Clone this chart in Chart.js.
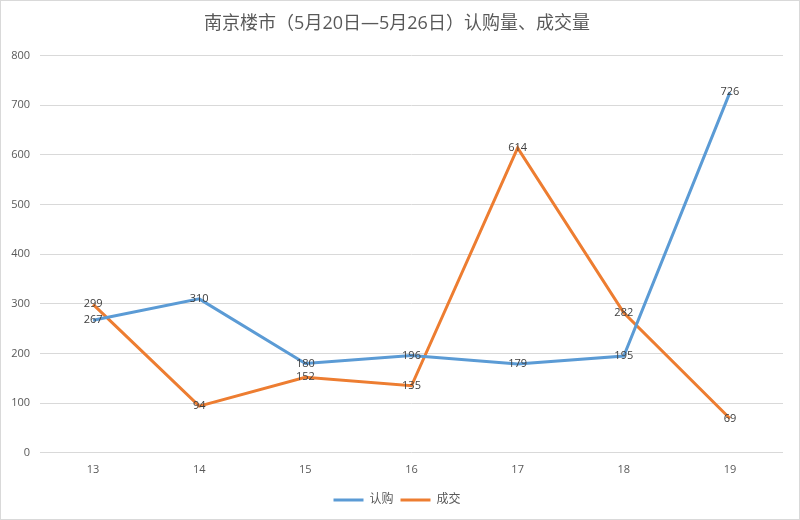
<!DOCTYPE html>
<html>
<head>
<meta charset="utf-8">
<script src="https://cdn.jsdelivr.net/npm/chart.js@4"></script>
<style>
    body { margin: 0; background: #fff; }
    #box { width: 798px; height: 518px; border: 1px solid #d9d9d9; }
</style>
</head>
<body>
<div id="box"><canvas id="graph1" width="798" height="518"></canvas></div>
<script>
const days      = ["13", "14", "15", "16", "17", "18", "19"];
const rengou    = [267, 310, 180, 196, 179, 195, 726];   // 认购
const chengjiao = [299, 94, 152, 135, 614, 282, 69];     // 成交

const FONT = "'Open Sans', 'Noto Sans CJK SC', sans-serif";

// 数値ラベルを点の真上(中央)に描く
const valueLabels = {
    id: "valueLabels",
    afterDatasetsDraw(chart) {
        const ctx = chart.ctx;
        ctx.save();
        ctx.font = "11px " + FONT;
        ctx.fillStyle = "#404040";
        ctx.textAlign = "center";
        ctx.textBaseline = "middle";
        chart.data.datasets.forEach((ds, i) => {
            const meta = chart.getDatasetMeta(i);
            meta.data.forEach((pt, j) => {
                ctx.fillText(String(ds.data[j]), pt.x, pt.y);
            });
        });
        ctx.restore();
    }
};

window.addEventListener("load", function () {
    const ctx = document.getElementById("graph1").getContext("2d");
    new Chart(ctx, {
        type: "line",
        data: {
            labels: days,
            datasets: [
                {
                    label: "认购",
                    data: rengou,
                    borderColor: "#5B9BD5",
                    backgroundColor: "#5B9BD5",
                    borderWidth: 3,
                    pointRadius: 0,
                    tension: 0
                },
                {
                    label: "成交",
                    data: chengjiao,
                    borderColor: "#ED7D31",
                    backgroundColor: "#ED7D31",
                    borderWidth: 3,
                    pointRadius: 0,
                    tension: 0
                }
            ]
        },
        options: {
            responsive: false,
            animation: false,
            layout: { padding: { left: 10, right: 16, top: 0, bottom: 3 } },
            plugins: {
                title: {
                    display: true,
                    text: "南京楼市（5月20日—5月26日）认购量、成交量",
                    color: "#595959",
                    font: { family: FONT, size: 18, weight: "normal" },
                    padding: { top: 12, bottom: 21 }
                },
                legend: {
                    position: "bottom",
                    labels: {
                        usePointStyle: true,
                        pointStyle: "line",
                        pointStyleWidth: 30,
                        boxHeight: 12,
                        padding: 7,
                        color: "#595959",
                        font: { family: FONT, size: 12 }
                    }
                },
                tooltip: { enabled: false }
            },
            scales: {
                x: {
                    offset: true,
                    grid: { display: false },
                    border: { display: false },
                    ticks: { color: "#595959", font: { family: FONT, size: 11 }, padding: 2 },
                    afterFit: function (scale) { scale.height += 9; }
                },
                y: {
                    min: 0,
                    max: 800,
                    ticks: {
                        stepSize: 100,
                        color: "#595959",
                        font: { family: FONT, size: 11 },
                        padding: 10
                    },
                    grid: { color: "#d9d9d9", drawTicks: false },
                    border: { display: false },
                    afterFit: function (scale) { scale.width = 29; }
                }
            }
        },
        plugins: [valueLabels]
    });
});
</script>
</body>
</html>
